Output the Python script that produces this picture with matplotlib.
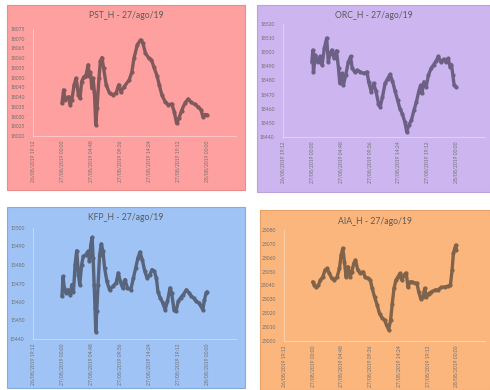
import matplotlib
matplotlib.use('Agg')
import matplotlib.pyplot as plt
import pandas as pd
from matplotlib.patches import Rectangle

plt.rcParams['font.family'] = ['Lato', 'DejaVu Sans']

dia = '2019-08-27'

# PST_H
pst_horas = ['00:00', '00:16', '00:33', '01:05', '01:21', '01:38', '02:00', '02:20', '02:43', '02:59',
             '03:15', '03:38', '03:57', '04:20', '04:30', '04:43', '04:56', '05:09', '05:22', '05:35',
             '05:48', '06:07', '06:21', '06:37', '06:53', '07:19', '07:52', '08:24', '08:57', '09:23',
             '09:45', '10:18', '11:07', '11:33', '11:55', '12:28', '13:00', '13:23', '13:49', '14:22',
             '14:48', '15:11', '15:43', '16:06', '16:32', '17:04', '17:37', '18:09', '18:35', '18:58',
             '19:21', '19:47', '20:20', '20:52', '21:24', '21:57', '22:30', '23:02', '23:18', '23:35', '23:59']
pst_h = [18036.8, 18043.7, 18038.5, 18040.2, 18036.0, 18038.5, 18046.3, 18049.7, 18041.0, 18039.3,
         18048.0, 18050.5, 18051.0, 18056.6, 18051.0, 18052.7, 18044.6, 18049.7, 18042.5, 18025.7,
         18034.3, 18049.7, 18058.3, 18060.3, 18054.9, 18046.3, 18042.0, 18041.2, 18042.0, 18046.3,
         18042.7, 18045.4, 18048.8, 18052.7, 18060.0, 18066.9, 18069.4, 18067.8, 18062.6, 18060.0,
         18059.1, 18055.7, 18051.0, 18046.3, 18041.0, 18037.7, 18036.0, 18036.5, 18032.5, 18026.5,
         18029.1, 18033.0, 18036.8, 18039.0, 18037.3, 18036.3, 18035.1, 18033.4, 18030.0, 18031.0, 18031.0]

# ORC_H
orc_horas = ['00:00', '00:10', '00:16', '00:36', '00:59', '01:22', '01:42', '02:05', '02:28', '02:44',
             '03:01', '03:20', '03:43', '04:06', '04:26', '04:39', '04:58', '05:15', '05:38', '06:04',
             '06:27', '06:43', '07:09', '07:32', '08:05', '08:38', '09:11', '09:27', '09:53', '10:16',
             '10:39', '11:05', '11:22', '11:45', '12:11', '12:37', '13:00', '13:23', '13:50', '14:16',
             '14:39', '15:02', '15:28', '15:47', '16:07', '16:33', '16:59', '17:23', '17:46', '18:05',
             '18:18', '18:38', '19:01', '19:24', '19:50', '20:16', '20:39', '21:02', '21:29', '21:55',
             '22:18', '22:41', '23:00', '23:13', '23:27', '23:40', '23:59']
orc_h = [18493, 18501.5, 18486, 18498, 18493, 18497, 18491, 18503, 18510, 18493,
         18499, 18501.5, 18495.6, 18501, 18488.5, 18478, 18485, 18476.7, 18484, 18493,
         18497, 18488.5, 18486, 18487.3, 18486, 18485, 18486, 18479, 18472, 18478,
         18472.7, 18463.7, 18461.3, 18468.4, 18478, 18481.4, 18484.3, 18480, 18472.7, 18466,
         18460, 18456.6, 18450.6, 18443.5, 18448.3, 18451.8, 18458.9, 18464.8, 18472, 18476.7,
         18470.8, 18479, 18475.6, 18484, 18488.5, 18491.3, 18493.7, 18497, 18493, 18495,
         18493, 18495.6, 18489.6, 18491.3, 18484, 18476.7, 18475.6]

# KFP_H
kfp_horas = ['00:00', '00:10', '00:23', '00:39', '00:59', '01:21', '01:38', '01:54', '02:10', '02:26',
             '02:43', '02:56', '03:15', '03:31', '03:57', '04:20', '04:33', '04:46', '04:59', '05:09',
             '05:19', '05:28', '05:35', '05:45', '05:58', '06:14', '06:30', '06:47', '07:03', '07:26',
             '07:52', '08:24', '08:57', '09:19', '09:39', '10:02', '10:25', '10:50', '11:23', '11:49',
             '12:12', '12:34', '12:54', '13:17', '13:43', '14:05', '14:32', '14:54', '15:17', '15:37',
             '15:53', '16:16', '16:41', '17:04', '17:27', '17:53', '18:09', '18:32', '18:52', '19:14',
             '19:37', '20:03', '20:36', '21:02', '21:25', '21:47', '22:13', '22:39', '23:02', '23:18',
             '23:35', '23:51', '23:59']
kfp_h = [15463, 15473.8, 15467.6, 15464.9, 15466.6, 15463.9, 15469.4, 15465.5, 15480.2, 15487.7,
         15474.8, 15469.4, 15480.2, 15484.6, 15485.6, 15487.4, 15481.9, 15491, 15494.9, 15483.8,
         15469.4, 15456.8, 15444, 15454.9, 15469.4, 15485.6, 15491.4, 15487.4, 15478.4, 15471.1,
         15466.6, 15468.4, 15470.3, 15475.7, 15471.1, 15467.6, 15472.1, 15467.6, 15466.6, 15473,
         15478.4, 15483.8, 15487, 15482.9, 15476.5, 15473, 15474.8, 15477.5, 15476.5, 15473,
         15465.5, 15462.2, 15459.5, 15455.8, 15460.3, 15467.6, 15464.9, 15455.8, 15454.9, 15460.3,
         15462.2, 15463.9, 15466.6, 15464.9, 15463, 15462.2, 15460.3, 15459.5, 15457.6, 15455.8,
         15461.2, 15464.9, 15465.5]

# AIA_H
aia_horas = ['00:00', '00:17', '00:34', '00:57', '01:17', '01:41', '02:04', '02:24', '02:47', '03:11',
             '03:38', '04:05', '04:28', '04:45', '05:02', '05:18', '05:35', '05:52', '06:16', '06:32',
             '06:52', '07:09', '07:32', '07:59', '08:23', '08:46', '09:13', '09:37', '09:57', '10:20',
             '10:47', '11:10', '11:34', '12:01', '12:21', '12:41', '13:01', '13:18', '13:35', '13:55',
             '14:15', '14:35', '14:55', '15:15', '15:38', '15:55', '16:16', '16:39', '17:02', '17:26',
             '17:43', '18:03', '18:26', '18:43', '19:00', '19:23', '19:50', '20:23', '20:57', '21:31',
             '22:04', '22:38', '23:01', '23:18', '23:31', '23:45', '23:55', '23:59']
aia_h = [23042.6, 23040.2, 23038.6, 23040.2, 23043.9, 23046.2, 23051.1, 23052.3, 23048.7, 23045.1,
         23043.9, 23046.2, 23052.3, 23061.9, 23066.8, 23057.1, 23046.2, 23053.5, 23046.2, 23049.9,
         23055.9, 23058.3, 23051.1, 23048.7, 23049.9, 23046.2, 23045.1, 23043.9, 23037.9, 23031.8,
         23025.8, 23019.8, 23016.9, 23015, 23011.3, 23008.2, 23015, 23027, 23037.9, 23043.9,
         23046.2, 23048.7, 23043.9, 23047.5, 23049, 23039, 23042.6, 23042.6, 23041.8, 23041.5,
         23035.4, 23030.6, 23031.8, 23037.9, 23031.8, 23034.2, 23035.4, 23036.6, 23037, 23038.6,
         23039, 23039.5, 23040.2, 23051.1, 23063.2, 23066.8, 23069.1, 23065.5]

# rótulos do eixo x (passo de 4h48)
x_ticks = ['2019-08-26 19:12', '2019-08-27 00:00', '2019-08-27 04:48', '2019-08-27 09:36',
           '2019-08-27 14:24', '2019-08-27 19:12', '2019-08-28 00:00', '2019-08-28 04:48']
x_labels = ['26/08/2019 19:12', '27/08/2019 00:00', '27/08/2019 04:48', '27/08/2019 09:36',
            '27/08/2019 14:24', '27/08/2019 19:12', '28/08/2019 00:00', '']

# (titulo, horas, valores, ymin, ymax, passo, fundo, borda, cor da linha, painel px, eixo px)
paineis = [
    ('PST_H - 27/ago/19', pst_horas, pst_h, 18020, 18075, 5, '#ffa0a0', '#e88c8c', '#80595b',
     (7, 5, 245, 190), (33, 29, 236, 136)),
    ('ORC_H - 27/ago/19', orc_horas, orc_h, 18440, 18520, 10, '#cdb6f0', '#b9a2dc', '#6d6086',
     (257, 5, 490, 192), (283, 24, 485, 137)),
    ('KFP_H - 27/ago/19', kfp_horas, kfp_h, 15440, 15500, 10, '#a0c3f5', '#86acdf', '#57647c',
     (7, 207, 245, 388), (33, 228, 236, 339)),
    ('AIA_H - 27/ago/19', aia_horas, aia_h, 23000, 23080, 10, '#fbb67e', '#e5a16a', '#806348',
     (260, 210, 490, 390), (284, 230, 485, 341)),
]

W, H = 490, 390
fig = plt.figure(figsize=(W / 100, H / 100), dpi=100)
fig.patch.set_facecolor('white')

ticks = pd.to_datetime(x_ticks)

for titulo, horas, valores, y0, y1, passo, fundo, borda, cor, painel, eixo in paineis:
    px0, py0, px1, py1 = painel
    fig.add_artist(Rectangle((px0 / W, 1 - py1 / H), (px1 - px0) / W, (py1 - py0) / H,
                             transform=fig.transFigure, facecolor=fundo, edgecolor=borda,
                             lw=0.8, zorder=0))
    fig.text((px0 + px1) / 2 / W, 1 - (py0 + 11) / H, titulo, ha='center', va='center',
             fontsize=6.2, color='#5a5a5a')

    ax0, ay0, ax1, ay1 = eixo
    ax = fig.add_axes([ax0 / W, 1 - ay1 / H, (ax1 - ax0) / W, (ay1 - ay0) / H])
    ax.set_facecolor('none')
    tempos = pd.to_datetime([dia + ' ' + h for h in horas])
    ax.plot(tempos, valores, color=cor, lw=2.4, solid_joinstyle='round',
            solid_capstyle='round', marker='o', markersize=2.0)
    ax.set_xlim(ticks[0], ticks[-1])
    ax.set_ylim(y0, y1)
    ax.set_yticks(range(y0, y1 + 1, passo))
    ax.set_xticks(ticks)
    ax.set_xticklabels(x_labels, rotation=90)
    ax.tick_params(axis='both', length=0, labelsize=3.6, labelcolor='#6f6f6f')
    ax.tick_params(axis='y', pad=6)
    ax.tick_params(axis='x', pad=3)
    for lado in ['top', 'right']:
        ax.spines[lado].set_visible(False)
    for lado in ['left', 'bottom']:
        ax.spines[lado].set_color('#ffffff')
        ax.spines[lado].set_alpha(0.45)
        ax.spines[lado].set_linewidth(0.6)

fig.savefig('out.png', dpi=100)
